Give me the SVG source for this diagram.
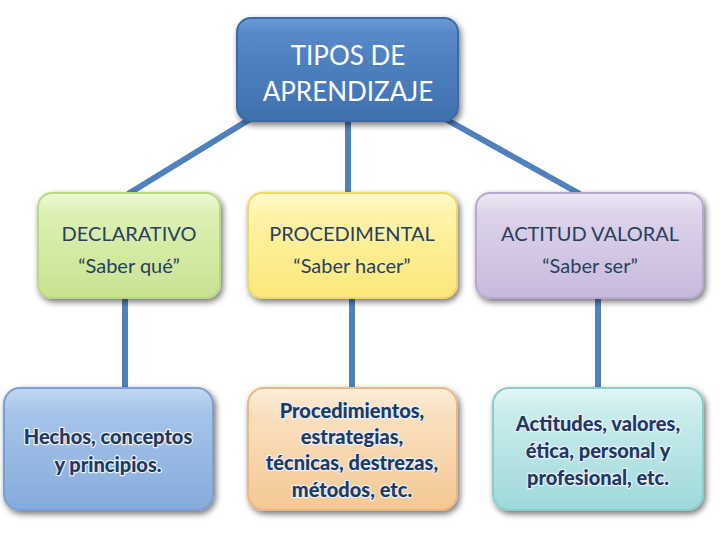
<svg xmlns="http://www.w3.org/2000/svg" width="720" height="540" viewBox="0 0 720 540">
<style>
.conn{stroke:#4f81bd;stroke-width:6;fill:none;stroke-linecap:butt}
.box{stroke-width:2}
.t1{font-family:Lato,"Open Sans",sans-serif;font-size:26px;fill:#ffffff;text-anchor:middle}
.t2{font-family:Lato,"Open Sans",sans-serif;font-size:20px;fill:#27405e;text-anchor:middle}
.t3{font-family:Lato,"Open Sans",sans-serif;font-size:20px;font-weight:900;fill:#1f3a60;text-anchor:middle;stroke:#e8eef8;stroke-width:2.5;paint-order:stroke;stroke-linejoin:round}
</style>
<defs>
<filter id="sh" x="-10%" y="-10%" width="125%" height="130%">
<feGaussianBlur in="SourceAlpha" stdDeviation="3"/>
<feOffset dx="2" dy="3"/>
<feComponentTransfer><feFuncA type="linear" slope="0.55"/></feComponentTransfer>
<feMerge><feMergeNode/><feMergeNode in="SourceGraphic"/></feMerge>
</filter>
<linearGradient id="gTop" x1="0" y1="0" x2="0" y2="1"><stop offset="0" stop-color="#6d9bd6"/><stop offset="0.15" stop-color="#5688c8"/><stop offset="1" stop-color="#3f70ae"/></linearGradient>
<linearGradient id="gGreen" x1="0" y1="0" x2="0" y2="1"><stop offset="0" stop-color="#eef8d6"/><stop offset="0.2" stop-color="#dcf0b4"/><stop offset="1" stop-color="#c7e391"/></linearGradient>
<linearGradient id="gYellow" x1="0" y1="0" x2="0" y2="1"><stop offset="0" stop-color="#fffad0"/><stop offset="0.2" stop-color="#fff3a8"/><stop offset="1" stop-color="#fbe77a"/></linearGradient>
<linearGradient id="gPurple" x1="0" y1="0" x2="0" y2="1"><stop offset="0" stop-color="#eee8f4"/><stop offset="0.2" stop-color="#ddd3ea"/><stop offset="1" stop-color="#c7b9dc"/></linearGradient>
<linearGradient id="gBlue" x1="0" y1="0" x2="0" y2="1"><stop offset="0" stop-color="#c3d8f2"/><stop offset="0.2" stop-color="#a6c4ea"/><stop offset="1" stop-color="#86abdc"/></linearGradient>
<linearGradient id="gPeach" x1="0" y1="0" x2="0" y2="1"><stop offset="0" stop-color="#fdeedb"/><stop offset="0.2" stop-color="#fbe0c0"/><stop offset="1" stop-color="#f3c893"/></linearGradient>
<linearGradient id="gCyan" x1="0" y1="0" x2="0" y2="1"><stop offset="0" stop-color="#e3f6f6"/><stop offset="0.2" stop-color="#c9ecec"/><stop offset="1" stop-color="#9fd9da"/></linearGradient>
</defs>
<rect width="720" height="540" fill="#ffffff"/>
<g id="connectors">
<line class="conn" x1="255" y1="116" x2="128" y2="194"/>
<line class="conn" x1="348" y1="118" x2="348" y2="194"/>
<line class="conn" x1="440" y1="116" x2="580" y2="194"/>
<line class="conn" x1="125" y1="296" x2="125" y2="390"/>
<line class="conn" x1="352" y1="296" x2="352" y2="390"/>
<line class="conn" x1="598" y1="296" x2="598" y2="390"/>
</g>
<g id="top">
<rect class="box" x="237" y="18" width="221" height="103" rx="14" fill="url(#gTop)" stroke="#3a6aa6" filter="url(#sh)"/>
<text class="t1" x="348" y="65">TIPOS DE</text>
<text class="t1" x="348" y="101">APRENDIZAJE</text>
</g>
<g id="declarativo">
<rect class="box" x="38" y="193" width="182" height="105" rx="14" fill="url(#gGreen)" stroke="#b8d884" filter="url(#sh)"/>
<text class="t2" x="129" y="241">DECLARATIVO</text>
<text class="t2" x="129" y="273">“Saber qué”</text>
</g>
<g id="procedimental">
<rect class="box" x="248" y="193" width="209" height="105" rx="14" fill="url(#gYellow)" stroke="#efd860" filter="url(#sh)"/>
<text class="t2" x="352" y="241">PROCEDIMENTAL</text>
<text class="t2" x="352" y="273">“Saber hacer”</text>
</g>
<g id="actitud">
<rect class="box" x="476" y="193" width="227" height="105" rx="14" fill="url(#gPurple)" stroke="#b8a8d0" filter="url(#sh)"/>
<text class="t2" x="590" y="241">ACTITUD VALORAL</text>
<text class="t2" x="590" y="273">“Saber ser”</text>
</g>
<g id="hechos">
<rect class="box" x="4" y="388" width="209" height="122" rx="16" fill="url(#gBlue)" stroke="#7aa0d2" filter="url(#sh)"/>
<text class="t3" x="108" y="444">Hechos, conceptos</text>
<text class="t3" x="108" y="472">y principios.</text>
</g>
<g id="procedimientos">
<rect class="box" x="248" y="388" width="209" height="122" rx="16" fill="url(#gPeach)" stroke="#e8b880" filter="url(#sh)"/>
<text class="t3" x="352" y="418">Procedimientos,</text>
<text class="t3" x="352" y="444">estrategias,</text>
<text class="t3" x="352" y="470">técnicas, destrezas,</text>
<text class="t3" x="352" y="497">métodos, etc.</text>
</g>
<g id="actitudes">
<rect class="box" x="493" y="388" width="210" height="122" rx="16" fill="url(#gCyan)" stroke="#8ccccd" filter="url(#sh)"/>
<text class="t3" x="598" y="431">Actitudes, valores,</text>
<text class="t3" x="598" y="458">ética, personal y</text>
<text class="t3" x="598" y="485">profesional, etc.</text>
</g>
</svg>
